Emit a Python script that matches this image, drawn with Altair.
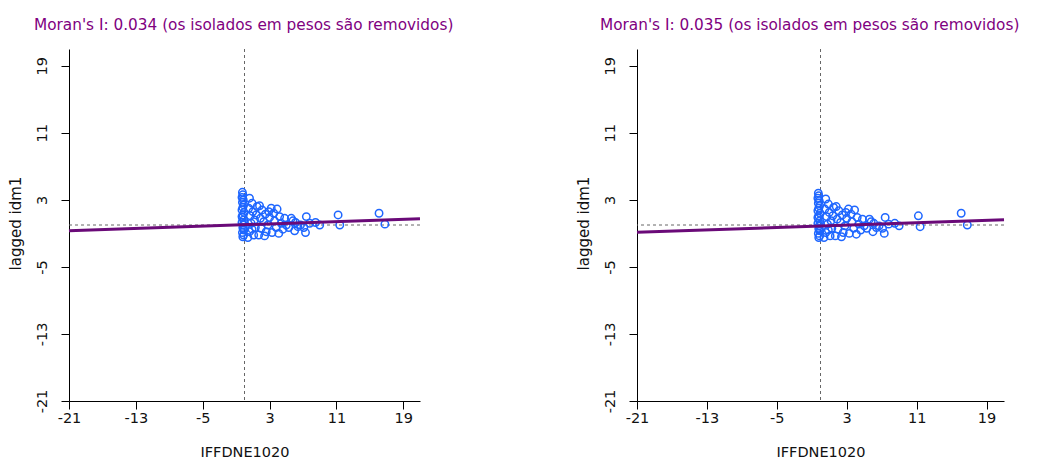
import altair as alt
import pandas as pd

# ---- data ----
ticks = [-21, -13, -5, 3, 11, 19]
moran_i = [0.034, 0.035]
intercepts = [0.03, -0.12]
mean_x = [0.0, 0.0]
mean_y = [0.0, 0.0]
panel_titles = [
    "Moran's I: 0.034 (os isolados em pesos são removidos)",
    "Moran's I: 0.035 (os isolados em pesos são removidos)",
]
x_label = "IFFDNE1020"
y_label = "lagged idm1"

iffdne = [
    -0.25, -0.2, -0.3, -0.15, -0.25, -0.1, -0.2, -0.3, -0.05, -0.2, -0.25, -0.1,
    -0.3, -0.15, -0.2, -0.05, -0.25, -0.1, -0.2, -0.3, 0.0, -0.15,
    0.6, 0.9, 0.5, 1.0, 0.7, 1.2, 0.8, 1.3, 0.6, 1.1, 0.4, 1.5, 1.4, 0.9,
    1.8, 2.1, 2.5, 1.9, 2.3, 2.8, 2.0, 2.6, 1.7, 2.4, 2.9, 3.2, 3.0,
    3.5, 3.9, 4.2, 3.6, 4.4, 3.8, 4.6, 3.3, 4.1, 4.8, 5.0,
    5.3, 5.8, 6.1, 6.4, 5.6, 6.7, 6.0,
    7.4, 7.1, 7.3, 8.5, 9.0, 7.8,
    11.2, 11.4,
    16.1, 16.8,
]
lag_1 = [
    3.9, 3.6, 3.3, 3.0, 2.7, 2.4, 2.1, 1.8, 1.5, 1.2, 0.9, 0.6,
    0.3, 0.0, -0.3, -0.6, -0.9, -1.2, -1.4, 1.0, 0.2, -0.5,
    3.2, 2.6, 2.0, 1.6, 1.1, 0.6, 0.2, -0.3, -0.8, -1.2, -1.5, 2.2, 1.2, -0.5,
    2.3, 1.8, 1.3, 0.8, 0.4, 0.0, -0.4, -0.8, -1.2, -1.3, 1.6, 2.0, 0.9,
    1.4, 1.9, 1.0, 0.5, 0.2, -0.3, -0.5, -0.9, -1.0, 0.8, 0.0,
    -0.3, 0.5, 0.3, -0.2, 0.8, 0.0, -0.7,
    1.0, -0.3, -0.9, 0.3, 0.0, 0.2,
    1.2, 0.0,
    1.4, 0.1,
]
lag_2 = [
    3.8, 3.5, 3.2, 2.9, 2.6, 2.3, 2.0, 1.7, 1.4, 1.1, 0.8, 0.5,
    0.2, -0.1, -0.4, -0.7, -1.0, -1.3, -1.5, 0.9, 0.1, -0.6,
    3.1, 2.5, 1.9, 1.5, 1.0, 0.5, 0.1, -0.4, -0.9, -1.3, -1.5, 2.1, 1.1, -0.6,
    2.2, 1.7, 1.2, 0.7, 0.3, -0.1, -0.5, -0.9, -1.3, -1.4, 1.5, 1.9, 0.8,
    1.3, 1.8, 0.9, 0.4, 0.1, -0.4, -0.6, -1.0, -1.1, 0.7, -0.1,
    -0.4, 0.4, 0.2, -0.3, 0.7, -0.1, -0.8,
    0.9, -0.4, -1.0, 0.2, -0.1, 0.1,
    1.1, -0.2,
    1.4, 0.0,
]

BLUE = "#1e66ff"
PURPLE = "#6a0a78"
FONT = "DejaVu Sans"


def panel(lag, slope, icpt, mx, my, title, width, dx):
    df = pd.DataFrame({"x": iffdne, "y": lag})
    xs = alt.Scale(domain=[-21, 21], nice=False, zero=False)
    ys = alt.Scale(domain=[-21, 21], nice=False, zero=False)
    xaxis = alt.Axis(
        values=ticks, grid=False, tickSize=8, labelPadding=2,
        labelExpr="'' + datum.value",
        labelFontSize=14.5, labelFont=FONT, labelColor="#111111",
        domainColor="black", tickColor="black", labelFlush=False,
        titleFont=FONT, titleFontSize=14.5, titleFontWeight="normal",
        titleColor="#111111", titleY=55, titleBaseline="alphabetic",
    )
    yaxis = alt.Axis(
        values=ticks, grid=False, tickSize=8, labelPadding=12,
        labelExpr="'' + datum.value",
        labelAngle=270, labelAlign="center", labelBaseline="bottom",
        labelFontSize=14.5, labelFont=FONT, labelColor="#111111",
        domainColor="black", tickColor="black", labelFlush=False,
        titleFont=FONT, titleFontSize=15, titleFontWeight="normal",
        titleColor="#111111", titleX=-54, titleY=174, titleAngle=270,
        titleAlign="center", titleBaseline="middle",
    )
    pts = alt.Chart(df).mark_point(
        shape="circle", filled=False, color=BLUE, size=55, strokeWidth=1.5, opacity=1
    ).encode(
        x=alt.X("x:Q", scale=xs, axis=xaxis, title=x_label),
        y=alt.Y("y:Q", scale=ys, axis=yaxis, title=y_label),
    )
    reg = pd.DataFrame({"x": [-21, 21], "y": [icpt + slope * -21, icpt + slope * 21]})
    line = alt.Chart(reg).mark_line(color=PURPLE, strokeWidth=3).encode(
        x=alt.X("x:Q", scale=xs), y=alt.Y("y:Q", scale=ys)
    )
    vline = alt.Chart(pd.DataFrame({"x": [mx]})).mark_rule(
        color="#666666", strokeDash=[3, 3], strokeWidth=1
    ).encode(x=alt.X("x:Q", scale=xs))
    hline = alt.Chart(pd.DataFrame({"y": [my]})).mark_rule(
        color="#666666", strokeDash=[3, 3], strokeWidth=1
    ).encode(y=alt.Y("y:Q", scale=ys))
    return alt.layer(vline, hline, pts, line).properties(
        width=width, height=352,
        title=alt.TitleParams(
            text=title, anchor="start", frame="group", dx=dx, offset=15,
            font=FONT, fontSize=15.3, fontWeight="normal", color="#800080",
        ),
    )


left = panel(lag_1, moran_i[0], intercepts[0], mean_x[0], mean_y[0], panel_titles[0], 351, -35)
right = panel(lag_2, moran_i[1], intercepts[1], mean_x[1], mean_y[1], panel_titles[1], 367, -37)

chart = alt.hconcat(left, right, spacing=217, bounds="flush").properties(
    padding={"left": 0, "top": 10, "right": 0, "bottom": 0}
).configure_view(strokeWidth=0).resolve_scale(x="independent", y="independent")

chart.save("out.html", embed_options={"renderer": "svg", "actions": False})
